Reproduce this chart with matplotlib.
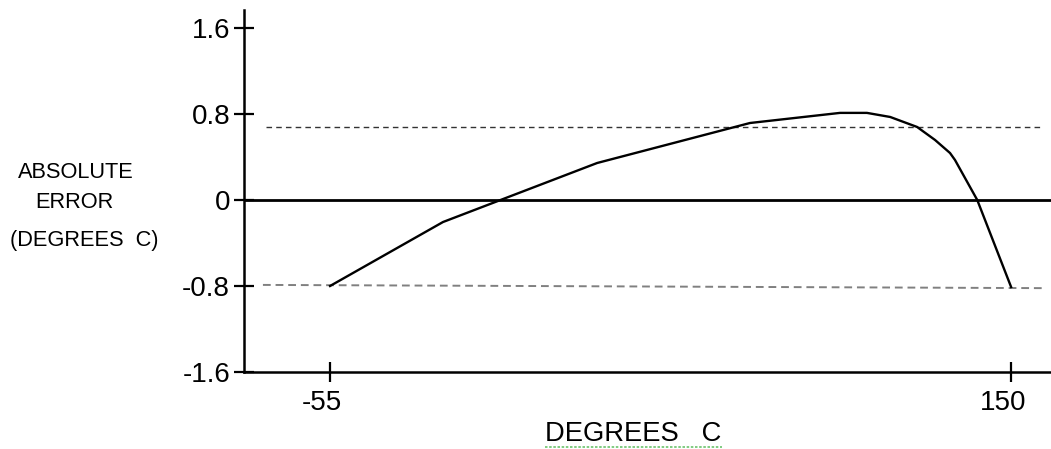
import matplotlib
matplotlib.use("Agg")
import matplotlib.pyplot as plt
import matplotlib.transforms as mtransforms

plt.rcParams['font.family'] = ['Liberation Sans', 'DejaVu Sans']

# Data
temp_c = [-55, -21, 25.4, 71.4, 98.5, 106.6, 113.6, 121.7, 127.1, 131.6, 133.1, 139.8, 150]
abs_error = [-0.80, -0.205, 0.344, 0.716, 0.81, 0.81, 0.772, 0.679, 0.558, 0.437, 0.372, 0.0, -0.81]

upper_limit_x = [-74.3, 158.7]
upper_limit_y = [0.68, 0.68]
lower_limit_x = [-75.2, 159.6]
lower_limit_y = [-0.79, -0.82]

x_ticks = [-55, 150]
x_tick_labels = ["-55", "150"]
y_ticks = [-1.6, -0.8, 0, 0.8, 1.6]
y_tick_labels = ["-1.6", "-0.8", "0", "0.8", "1.6"]

W, H = 1051, 449
fig = plt.figure(figsize=(W / 100, H / 100), dpi=100)
ax = fig.add_axes([244 / W, (H - 372) / H, 1 - 244 / W, (372 - 10) / H])

ax.set_xlim(-80.9, 162.0)
ax.set_ylim(-1.6, 1.767)

ax.axhline(0, color='black', lw=2.0, zorder=2)
ax.plot(upper_limit_x, upper_limit_y, color='#333333', lw=1.0, dashes=(4, 3), zorder=1)
ax.plot(lower_limit_x, lower_limit_y, color='#808080', lw=1.4, dashes=(4, 2.5), zorder=1)
ax.plot(temp_c, abs_error, color='black', lw=1.7, zorder=3, solid_joinstyle='round')

for side in ['top', 'right']:
    ax.spines[side].set_visible(False)
for side in ['left', 'bottom']:
    ax.spines[side].set_linewidth(1.8)
    ax.spines[side].set_color('black')

ax.set_xticks(x_ticks)
ax.set_xticklabels(x_tick_labels)
ax.set_yticks(y_ticks)
ax.set_yticklabels(y_tick_labels)
ax.tick_params(axis='both', direction='inout', length=14, width=1.6, labelsize=20, colors='black')
ax.tick_params(axis='x', pad=6)
ax.tick_params(axis='y', pad=3)

offset = mtransforms.ScaledTranslation(-8 / 100, 0, fig.dpi_scale_trans)
for lbl in ax.get_xticklabels():
    lbl.set_transform(lbl.get_transform() + offset)

# Y label lines
fig.text(18 / W, 1 - 172 / H, "ABSOLUTE", fontsize=15.7, ha='left', va='center')
fig.text(35 / W, 1 - 203 / H, "ERROR", fontsize=15.7, ha='left', va='center')
fig.text(10 / W, 1 - 240 / H, "(DEGREES  C)", fontsize=15.7, ha='left', va='center')

# X label
fig.text(545 / W, 1 - 434 / H, "DEGREES   C", fontsize=19.7, ha='left', va='center')
fig.add_artist(plt.Line2D([545 / W, 722 / W], [1 - 447 / H, 1 - 447 / H],
                          transform=fig.transFigure, color='#6cc26c', lw=1.2, ls=(0, (1.5, 1))))

fig.savefig("out.png", dpi=100)
